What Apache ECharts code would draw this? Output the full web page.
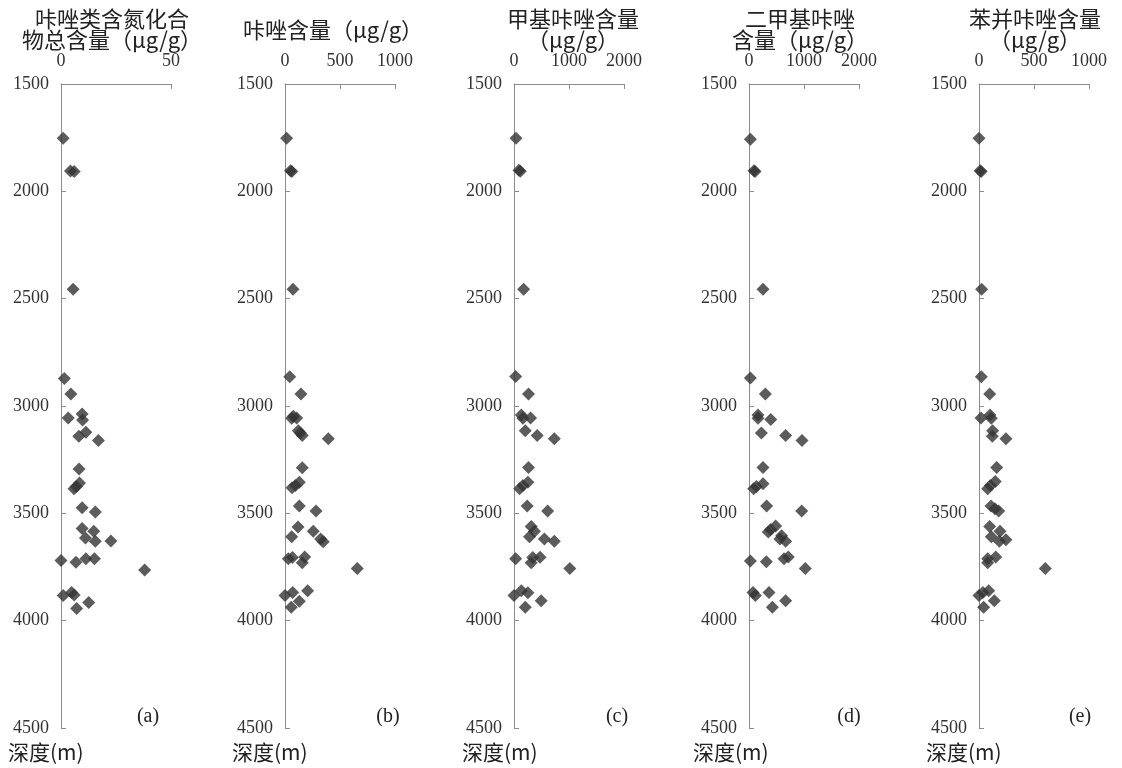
<!DOCTYPE html>
<html><head><meta charset="utf-8">
<script src="https://cdn.jsdelivr.net/npm/echarts@6/dist/echarts.min.js"></script>
<style>html,body{margin:0;padding:0;background:#fff}#c{width:1122px;height:768px}</style>
</head><body><div id="c"></div>
<script>
// [value, depth(m)]
const panelA = [[1.0,1753],[4.3,1905],[6.0,1908],[5.5,2456],[1.5,2872],[4.5,2944],[3.3,3056],[9.6,3037],[9.8,3065],[8.1,3141],[11.3,3122],[17,3161],[8.2,3294],[8.4,3359],[7.0,3375],[5.9,3386],[9.6,3474],[15.6,3494],[9.6,3571],[14.9,3584],[11.1,3615],[15.6,3630],[22.7,3629],[0,3720],[6.8,3728],[11.3,3711],[15.2,3711],[38,3764],[1.0,3883],[4.8,3869],[6.0,3881],[12.6,3915],[7.1,3943]];
const panelB = [[15,1753],[50,1904],[62,1908],[73,2456],[43,2864],[145,2944],[76,3048],[106,3056],[61,3057],[121,3115],[140,3126],[157,3138],[394,3153],[157,3288],[130,3355],[95,3370],[64,3381],[130,3466],[282,3489],[118,3564],[61,3609],[257,3584],[324,3619],[348,3632],[30,3711],[67,3706],[179,3703],[157,3730],[657,3757],[0,3883],[70,3869],[130,3909],[206,3861],[57,3937]];
const panelC = [[36,1753],[90,1902],[115,1906],[175,2456],[30,2862],[264,2944],[133,3042],[162,3057],[301,3056],[205,3115],[422,3138],[733,3153],[264,3286],[252,3355],[162,3370],[102,3386],[240,3466],[612,3489],[313,3561],[372,3584],[282,3609],[552,3620],[733,3630],[30,3711],[342,3706],[313,3730],[474,3705],[1015,3757],[0,3883],[133,3861],[252,3870],[494,3907],[205,3937]];
const panelD = [[25,1757],[90,1904],[110,1908],[255,2456],[25,2870],[298,2944],[164,3042],[164,3057],[395,3063],[225,3126],[666,3138],[964,3161],[255,3286],[255,3362],[135,3375],[85,3386],[320,3466],[958,3489],[484,3559],[393,3575],[351,3587],[593,3605],[562,3620],[666,3630],[25,3722],[316,3726],[636,3711],[715,3703],[1024,3757],[73,3869],[116,3883],[364,3869],[666,3907],[425,3937]];
const panelE = [[0,1753],[10,1904],[20,1908],[24,2456],[21,2864],[97,2944],[18,3056],[100,3042],[112,3057],[124,3115],[121,3141],[245,3153],[161,3286],[148,3352],[103,3370],[79,3386],[109,3466],[145,3479],[179,3489],[97,3561],[191,3584],[112,3609],[185,3630],[245,3623],[79,3711],[152,3703],[79,3730],[603,3757],[0,3883],[36,3869],[88,3861],[139,3907],[42,3937]];

const xMax = [50, 1000, 2000, 2000, 1000];
const xStep = [50, 500, 1000, 1000, 500];
const titles = ['咔唑类含氮化合\n物总含量（μg/g）', '咔唑含量（μg/g）', '甲基咔唑含量\n（μg/g）', '二甲基咔唑\n含量（μg/g）', '苯并咔唑含量\n（μg/g）'];
const tags = ['(a)', '(b)', '(c)', '(d)', '(e)'];
const depthMin = 1500, depthMax = 4500, depthStep = 500;
const yLabel = '深度(m)';

const data = [panelA, panelB, panelC, panelD, panelE];
const lefts = [61, 285, 514, 749, 979];
const titleX = [112, 333, 573, 800, 1035];
const titleY = [29, 30, 29, 29, 29];
const tagX = [148, 388, 617, 849, 1080];
const depthLblX = [8, 232, 462, 693, 926];

const num = {fontFamily: 'Liberation Serif', fontSize: 18, color: '#333', formatter: v => String(v)};
const axisLineStyle = {color: '#8c8c8c', width: 1};

const grid = [], xAxis = [], yAxis = [], series = [], graphic = [];
for (let i = 0; i < 5; i++) {
  grid.push({left: lefts[i], top: 84, width: 110, height: 644, containLabel: false});
  xAxis.push({gridIndex: i, type: 'value', position: 'top', min: 0, max: xMax[i], interval: xStep[i],
    axisLine: {show: true, onZero: false, lineStyle: axisLineStyle},
    axisTick: {show: true, inside: true, length: 5, lineStyle: axisLineStyle},
    axisLabel: Object.assign({margin: 14, showMinLabel: true, showMaxLabel: true}, num),
    splitLine: {show: false}});
  yAxis.push({gridIndex: i, type: 'value', inverse: true, min: depthMin, max: depthMax, interval: depthStep,
    axisLine: {show: true, onZero: false, lineStyle: axisLineStyle},
    axisTick: {show: true, inside: true, length: 5, lineStyle: axisLineStyle},
    axisLabel: Object.assign({margin: 12, showMinLabel: true, showMaxLabel: true}, num),
    splitLine: {show: false}});
  series.push({type: 'scatter', xAxisIndex: i, yAxisIndex: i, data: data[i], symbol: 'diamond', symbolSize: [13, 13],
    itemStyle: {color: '#333333'}, silent: true});
  graphic.push({type: 'text', x: titleX[i], y: titleY[i],
    style: {text: titles[i], align: 'center', verticalAlign: 'middle', font: '22px "Noto Sans CJK SC"', lineHeight: 21, fill: '#222'}});
  graphic.push({type: 'text', x: tagX[i], y: 717,
    style: {text: tags[i], align: 'center', verticalAlign: 'middle', font: '20px "Liberation Serif"', fill: '#222'}});
  graphic.push({type: 'text', x: depthLblX[i], y: 752,
    style: {text: yLabel, align: 'left', verticalAlign: 'middle', font: '21px "Noto Sans CJK SC"', fill: '#222'}});
}

const chart = echarts.init(document.getElementById('c'), null, {renderer: 'canvas'});
chart.setOption({animation: false, backgroundColor: '#fff', grid, xAxis, yAxis, series, graphic});
</script></body></html>
